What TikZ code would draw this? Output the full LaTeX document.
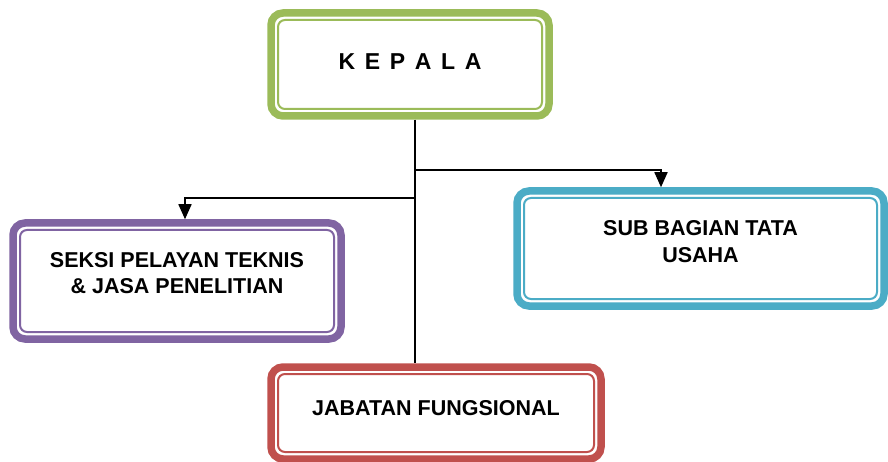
\documentclass[tikz,border=0pt]{standalone}
\usepackage{fontspec}
\setmainfont{Liberation Sans}
\usetikzlibrary{arrows.meta}
\definecolor{kgreen}{RGB}{155,187,89}
\definecolor{kpurple}{RGB}{128,100,162}
\definecolor{kteal}{RGB}{75,172,198}
\definecolor{kred}{RGB}{192,80,77}
% text lines of a box, with extra room below to lift them
\newcommand{\boxlines}[2]{\begin{tabular}{@{}c@{}}#1\\[#2]\end{tabular}}
\tikzset{
  orgbox/.style={draw=#1, fill=white, line width=7.5pt, rounded corners=12pt, align=center, inner sep=4pt,
    font=\bfseries\fontsize{21.5}{26.5}\selectfont,
    path picture={\draw[#1, line width=2pt, rounded corners=7pt]
      ([shift={(7pt,-7pt)}]path picture bounding box.north west) rectangle
      ([shift={(-7pt,7pt)}]path picture bounding box.south east);}},
  link/.style={line width=1.6pt},
  arrow/.style={-{Triangle[length=15pt,width=13pt]}, line width=1.6pt}
}
\begin{document}
\begin{tikzpicture}[x=1pt, y=-1pt]
\clip (0,0) rectangle (888,462);
\node[orgbox=kgreen, minimum width=278pt, minimum height=103pt] (kepala) at (410,64.5)
  {\fontsize{23}{26}\selectfont\spaceskip=0.42em\boxlines{K E P A L A}{1pt}};
\node[orgbox=kpurple, minimum width=328pt, minimum height=116pt] (seksi) at (177,281)
  {\boxlines{SEKSI PELAYAN TEKNIS\\\& JASA PENELITIAN}{12pt}};
\node[orgbox=kteal, minimum width=367pt, minimum height=115pt] (sub) at (700.5,248.5)
  {\boxlines{SUB BAGIAN TATA\\USAHA}{10pt}};
\node[orgbox=kred, minimum width=330pt, minimum height=92pt] (jabatan) at (436,413)
  {\boxlines{JABATAN FUNGSIONAL}{6pt}};
% connectors
\coordinate (split) at (415,198);
\coordinate (branch) at (415,170);
\coordinate (lefttap) at (185,198);
\coordinate (righttap) at (661,170);
\draw[link] (kepala.south -| split) -- (jabatan.north -| split);
\draw[arrow] (split) -- (lefttap) -- (lefttap |- seksi.north);
\draw[arrow] (branch) -- (righttap) -- (righttap |- sub.north);
\end{tikzpicture}
\end{document}
